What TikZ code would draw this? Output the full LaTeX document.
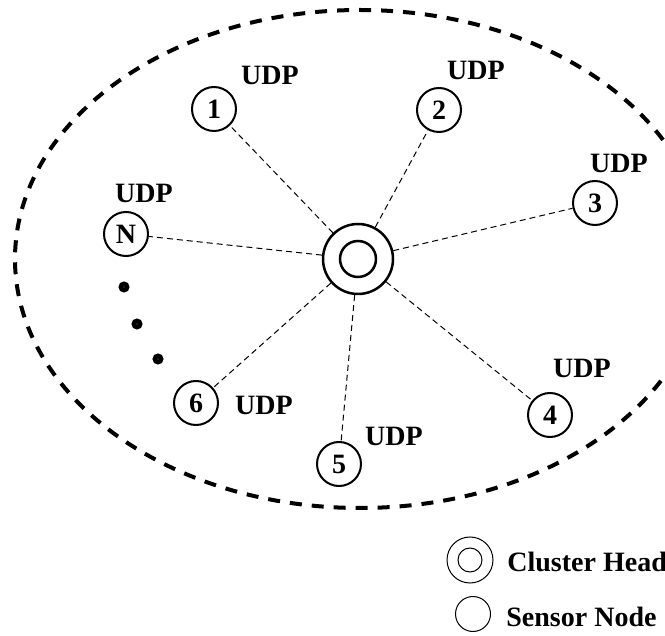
\documentclass[tikz,border=0pt]{standalone}
\usepackage{fontspec}
\setmainfont{Liberation Serif}
\usetikzlibrary{arrows.meta}

\begin{document}
\begin{tikzpicture}[x=0.5pt,y=-0.5pt,
    sensor/.style={circle, draw, line width=1pt, minimum size=22pt, inner sep=0pt,
      font=\fontsize{14}{16}\selectfont\bfseries},
    headring/.style={circle, draw, line width=1.25pt, inner sep=0pt},
    proto/.style={font=\fontsize{14}{16}\selectfont\bfseries, inner sep=0pt},
    link/.style={line width=0.5pt, dash pattern=on 3pt off 2pt},
    legendring/.style={circle, draw, line width=0.5pt, inner sep=0pt}]
    \useasboundingbox (0,0) rectangle (665,636);

    % cluster boundary
    \begin{scope}
      \clip (0,0) rectangle (665,636);
      \draw[line width=2pt, dash pattern=on 6pt off 5pt] (360,259) ellipse [x radius=345, y radius=249];
    \end{scope}

    % cluster head
    \node[headring, minimum size=35pt] (ch) at (358,259) {};
    \node[headring, minimum size=18pt] (chin) at (358,259) {};

    % sensor nodes
    \node[sensor] (n1) at (214,109) {1};
    \node[sensor] (n2) at (439,110) {2};
    \node[sensor] (n3) at (595,203) {3};
    \node[sensor] (n4) at (550,415) {4};
    \node[sensor] (n5) at (339,464) {5};
    \node[sensor] (n6) at (196,403) {6};
    \node[sensor] (nN) at (126,234) {N};

    \node[proto] (u1) at (270,75) {UDP};
    \node[proto] (u2) at (476,70) {UDP};
    \node[proto] (u3) at (619,163) {UDP};
    \node[proto] (u4) at (582,368) {UDP};
    \node[proto] (u5) at (394,436) {UDP};
    \node[proto] (u6) at (264,405) {UDP};
    \node[proto] (uN) at (144,193) {UDP};

    \foreach \n in {n1,n2,n3,n4,n5,n6,nN}
      \draw[link] (ch) -- (\n);

    % dots between N and 6
    \foreach \p in {(124,287),(137,324),(158,359)}
      \draw[line width=2.4pt] \p circle [radius=3];

    % legend
    \node[legendring, minimum size=23pt] (lgch) at (470,560) {};
    \node[legendring, minimum size=12pt] (lgchin) at (470,560) {};
    \node[proto, anchor=west] (lgchtxt) at (507,562) {Cluster Head};
    \node[legendring, minimum size=17.5pt] (lgsn) at (473,614) {};
    \node[proto, anchor=west] (lgsntxt) at (506,617) {Sensor Node};
\end{tikzpicture}
\end{document}
